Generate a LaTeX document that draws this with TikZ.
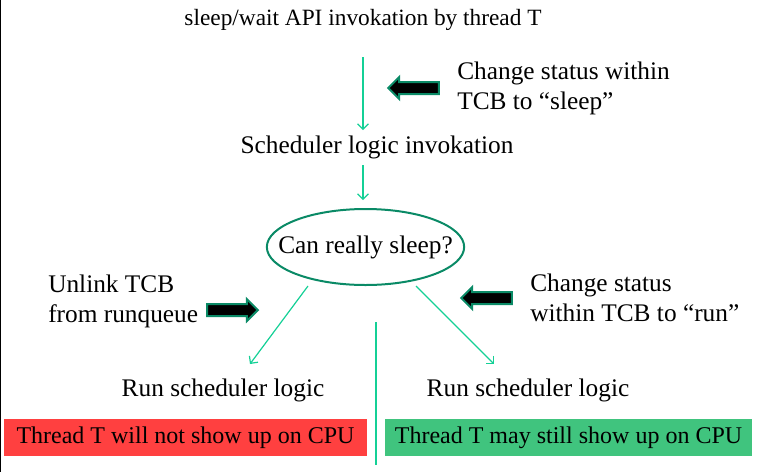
\documentclass[tikz,border=0pt]{standalone}
\usepackage{fontspec}
\setmainfont{Liberation Serif}
\usetikzlibrary{shapes.geometric,shapes.arrows,arrows.meta}
\definecolor{linegreen}{RGB}{20,208,150}
\definecolor{darkgreen}{RGB}{10,138,102}
\definecolor{boxred}{RGB}{255,64,64}
\definecolor{boxgreen}{RGB}{64,196,126}
\begin{document}
\begin{tikzpicture}[x=0.75pt,y=-0.75pt,
  txt/.style={font=\fontsize{19}{22.5}\selectfont,inner sep=0pt},
  conn/.style={-{Straight Barb[length=4pt,width=8pt]},draw=linegreen,line width=0.9pt},
  blockarrow/.style={single arrow,fill=black,draw=darkgreen,line width=1.5pt,
    minimum height=38pt,inner xsep=0pt,inner ysep=3.75pt,single arrow head extend=3.75pt},
  result/.style={txt,font=\fontsize{18}{22.5}\selectfont,minimum height=27.75pt,inner xsep=0pt}]
\useasboundingbox (0,0) rectangle (760,472);
\draw[line width=1.1pt] (0.75,0)--(0.75,472);
% texts
\node[txt,font=\fontsize{17.5}{22.5}\selectfont] (top) at (363,20) {sleep/wait API invokation by thread T};
\node[txt,anchor=west,align=left] (sleepnote) at (457,88) {Change status within\\TCB to “sleep”};
\node[txt] (sched) at (377,147) {Scheduler logic invokation};
\node[ellipse,draw=darkgreen,line width=1.5pt,minimum width=148pt,minimum height=57pt,inner sep=0pt] (ask) at (365.5,247) {};
\node[txt] (asktext) at (ask.center) {Can really sleep?};
\node[txt,anchor=west,align=left] (unlink) at (48,301) {Unlink TCB\\from runqueue};
\node[txt,anchor=west,align=left] (runnote) at (530,298) {Change status\\within TCB to “run”};
\node[txt] (runA) at (223,390) {Run scheduler logic};
\node[txt] (runB) at (528,390) {Run scheduler logic};
\node[result,fill=boxred,minimum width=272pt] (noshow) at (185.5,437.5) {Thread T will not show up on CPU};
\node[result,fill=boxgreen,minimum width=275pt] (mayshow) at (568.5,437.5) {Thread T may still show up on CPU};
% block arrows
\node[blockarrow,shape border rotate=180] (barrA) at (416.5,88) {};
\node[blockarrow] (barrB) at (229.5,310) {};
\node[blockarrow,shape border rotate=180] (barrC) at (489.5,298) {};
% connectors
\coordinate (a1s) at (363,57);
\coordinate (a1e) at (363,130);
\coordinate (a2s) at (363,165);
\coordinate (a2e) at (363,200);
\coordinate (a3s) at (308,286);
\coordinate (a3e) at (250,364);
\coordinate (a4s) at (416,286);
\coordinate (a4e) at (494,364);
\coordinate (sepS) at (375.7,322);
\coordinate (sepE) at (375.7,465);
\draw[conn] (a1s)--(a1e);
\draw[conn] (a2s)--(a2e);
\draw[conn] (a3s)--(a3e);
\draw[conn] (a4s)--(a4e);
\draw[linegreen,line width=1.3pt] (sepS)--(sepE);
\end{tikzpicture}
\end{document}
